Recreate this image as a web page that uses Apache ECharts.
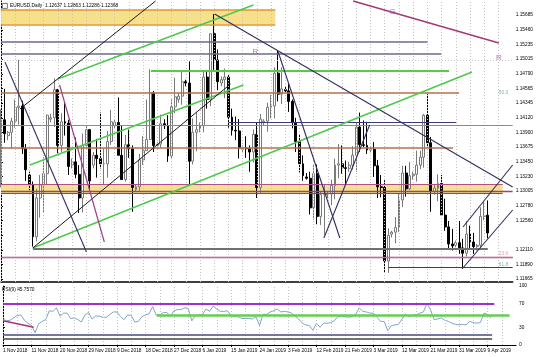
<!DOCTYPE html>
<html><head><meta charset="utf-8">
<script src="https://cdn.jsdelivr.net/npm/echarts@6/dist/echarts.min.js"></script>
<style>html,body{margin:0;padding:0;background:#fff}#c{width:536px;height:357px}</style>
</head><body><div id="c"></div>
<script>
// ---- data (bar index 0 = 1 Nov 2018, broker with Sunday bars) ----
const dateTicks = ['1 Nov 2018','11 Nov 2018','20 Nov 2018','29 Nov 2018','9 Dec 2018','18 Dec 2018','27 Dec 2018','6 Jan 2019','15 Jan 2019','24 Jan 2019','3 Feb 2019','12 Feb 2019','21 Feb 2019','3 Mar 2019','12 Mar 2019','21 Mar 2019','31 Mar 2019','9 Apr 2019'];
const priceTicks = [1.15685,1.15460,1.15235,1.15015,1.14790,1.14565,1.14345,1.14120,1.13900,1.13675,1.13450,1.13230,1.13005,1.12780,1.12560,1.12335,1.12110,1.11890,1.11665];
const rsiTicks = [0,30,70,100];
const lastPrice = 1.12368;

const open = [1.1313,1.1409,1.1385,1.1390,1.1407,1.1428,1.1430,1.1365,1.1325,1.1310,1.1231,1.1290,1.1310,1.1327,1.1410,1.1412,1.1455,1.1370,1.1406,1.1404,1.1340,1.1345,1.1326,1.1290,1.1370,1.1394,1.1340,1.1355,1.1350,1.1342,1.1342,1.1376,1.1400,1.1405,1.1355,1.1318,1.1371,1.1365,1.1303,1.1307,1.1348,1.1362,1.1379,1.1450,1.1370,1.1372,1.1403,1.1400,1.1354,1.1429,1.1440,1.1445,1.1467,1.1465,1.1346,1.1390,1.1395,1.1400,1.1474,1.1440,1.1540,1.1500,1.1465,1.1470,1.1474,1.1413,1.1393,1.1392,1.1364,1.1366,1.1365,1.1360,1.1387,1.1306,1.1405,1.1407,1.1428,1.1430,1.1480,1.1448,1.1455,1.1453,1.1437,1.1405,1.1376,1.1342,1.1322,1.1320,1.1275,1.1327,1.1262,1.1295,1.1295,1.1296,1.1309,1.1340,1.1342,1.1336,1.1335,1.1340,1.1355,1.1398,1.1371,1.1370,1.1363,1.1364,1.1339,1.1307,1.1306,1.1194,1.1235,1.1238,1.1245,1.1287,1.1328,1.1304,1.1324,1.1326,1.1340,1.1352,1.1416,1.1374,1.1300,1.1305,1.1312,1.1264,1.1246,1.1220,1.1218,1.1222,1.1214,1.1206,1.1235,1.1223,1.1216,1.1218,1.1262,1.12637];
const high = [1.1425,1.1456,1.1392,1.1412,1.1440,1.1500,1.1438,1.1372,1.1330,1.1315,1.1304,1.1325,1.1352,1.1417,1.1418,1.1472,1.1456,1.1419,1.1435,1.1409,1.1350,1.1382,1.1340,1.1388,1.1401,1.1395,1.1360,1.1380,1.1420,1.1365,1.1392,1.1424,1.1410,1.1443,1.1400,1.1386,1.1394,1.1370,1.1310,1.1357,1.1384,1.1440,1.1486,1.1453,1.1375,1.1417,1.1410,1.1416,1.1440,1.1473,1.1450,1.1484,1.1470,1.1498,1.1411,1.1420,1.1405,1.1484,1.1485,1.1540,1.1570,1.1516,1.1475,1.1487,1.1477,1.1426,1.1414,1.1410,1.1370,1.1384,1.1370,1.1394,1.1405,1.1418,1.1410,1.1435,1.1447,1.1489,1.1514,1.1489,1.1460,1.1464,1.1440,1.1412,1.1386,1.1355,1.1328,1.1330,1.1340,1.1341,1.1300,1.1310,1.1300,1.1318,1.1350,1.1372,1.1370,1.1347,1.1345,1.1369,1.1404,1.1420,1.1408,1.1406,1.1368,1.1375,1.1348,1.1325,1.1317,1.1244,1.1240,1.1261,1.1296,1.1339,1.1339,1.1345,1.1330,1.1362,1.1362,1.1418,1.1448,1.1383,1.1310,1.1326,1.1325,1.1289,1.1255,1.1243,1.1225,1.1255,1.1228,1.1255,1.1248,1.1237,1.1220,1.1276,1.1284,1.12863];
const low = [1.1306,1.1374,1.1378,1.1365,1.1397,1.1402,1.1357,1.1316,1.1302,1.1216,1.1224,1.1260,1.1268,1.1310,1.1405,1.1398,1.1358,1.1360,1.1385,1.1325,1.1335,1.1320,1.1267,1.1268,1.1365,1.1303,1.1335,1.1321,1.1335,1.1311,1.1321,1.1371,1.1395,1.1355,1.1318,1.1315,1.1351,1.1269,1.1300,1.1301,1.1340,1.1362,1.1380,1.1360,1.1365,1.1366,1.1395,1.1345,1.1349,1.1419,1.1435,1.1432,1.1460,1.1309,1.1341,1.1361,1.1390,1.1390,1.1426,1.1430,1.1485,1.1454,1.1460,1.1442,1.1397,1.1385,1.1378,1.1350,1.1360,1.1351,1.1330,1.1344,1.1290,1.1298,1.1400,1.1391,1.1411,1.1411,1.1437,1.1433,1.1450,1.1421,1.1396,1.1360,1.1329,1.1316,1.1318,1.1265,1.1257,1.1250,1.1249,1.1234,1.1290,1.1279,1.1288,1.1320,1.1327,1.1310,1.1330,1.1333,1.1330,1.1360,1.1367,1.1357,1.1358,1.1322,1.1290,1.1291,1.1176,1.1176,1.1230,1.1221,1.1238,1.1276,1.1292,1.1302,1.1318,1.1315,1.1334,1.1336,1.1367,1.1269,1.1295,1.1285,1.1264,1.1240,1.1213,1.1210,1.1215,1.1205,1.1183,1.1201,1.1212,1.1205,1.1210,1.1214,1.1256,1.12286];
const close = [1.1409,1.1388,1.1390,1.1407,1.1428,1.1430,1.1365,1.1333,1.1310,1.1231,1.1290,1.1310,1.1327,1.1416,1.1412,1.1455,1.1370,1.1406,1.1404,1.1338,1.1345,1.1326,1.1290,1.1370,1.1394,1.1316,1.1355,1.1350,1.1342,1.1342,1.1376,1.1406,1.1405,1.1355,1.1318,1.1371,1.1365,1.1306,1.1307,1.1348,1.1362,1.1379,1.1450,1.1370,1.1372,1.1403,1.1400,1.1354,1.1429,1.1444,1.1445,1.1467,1.1465,1.1346,1.1390,1.1394,1.1400,1.1474,1.1440,1.1540,1.1500,1.1467,1.1470,1.1474,1.1413,1.1393,1.1392,1.1366,1.1366,1.1365,1.1360,1.1387,1.1306,1.1410,1.1407,1.1428,1.1430,1.1480,1.1448,1.1456,1.1453,1.1437,1.1405,1.1376,1.1342,1.1324,1.1320,1.1275,1.1327,1.1262,1.1295,1.1295,1.1296,1.1309,1.1340,1.1342,1.1336,1.1335,1.1340,1.1355,1.1398,1.1371,1.1370,1.1363,1.1364,1.1339,1.1307,1.1306,1.1194,1.1233,1.1238,1.1245,1.1287,1.1328,1.1304,1.1324,1.1326,1.1340,1.1352,1.1416,1.1374,1.1300,1.1305,1.1312,1.1264,1.1246,1.1220,1.1217,1.1222,1.1214,1.1206,1.1235,1.1223,1.1216,1.1218,1.1262,1.1263,1.12368];
const rsi = [44,41,42,46,50,51,42,37,33,21,36,40,43,58,57,63,49,54,54,45,46,43,39,51,55,44,49,49,47,47,52,56,56,48,43,51,50,39,40,48,51,53,65,51,51,55,55,49,58,60,60,63,62,41,50,51,52,61,57,66,61,57,57,58,50,48,48,45,45,45,44,48,33,52,52,56,58,61,56,57,56,54,49,44,37,34,33,25,37,30,37,37,38,41,48,49,48,47,48,52,63,57,56,54,54,47,40,40,24,33,34,35,44,52,48,51,51,54,56,70,60,43,44,46,42,40,37,35,34,35,34,40,38,37,38,54,52,45.757];

// drawn objects: [barIndex1, price1, barIndex2, price2]
const yellowTrend = [-0.28,1.15183,75.2,1.12382];
const greenTrends = [[15.94,1.14711,71.03,1.15837],[8.11,1.13402,68.23,1.14620],[8.95,1.12139,132.55,1.14817]];
const blackTrends = [[5.31,1.14254,43.5,1.15898],[8.95,1.12139,64.6,1.14635]];
const navyTrends = [[60.12,1.15700,144,1.13067],[78.02,1.15122,95.36,1.12291],[90.88,1.12291,103.75,1.14011],[130.03,1.12458,144,1.13402],[129.75,1.11819,144,1.12717],[1.12,1.14970,24.05,1.12078]];
const purpleTrend = [16.5,1.14620,29.08,1.12230];
const magentaTrend = [99.1,1.15898,140.1,1.15259];
// horizontal levels: [fromBar, toBar, price]
const slateLevels = [[0,120,1.15285],[0,123.9,1.15102]];
const greenLevel = [42.2,126.1,1.14837];
const brownLevels = [[0,128.9,1.14502],[0,127.2,1.13671]];
const navyLevel = [64,128.1,1.14052];
const magentaLevels = [1.12600,1.12347];
const greyLevel = [9,137,1.12124];
const fibLevels = [['50.0',1.14472,'#5f9ea0'],['23.6',1.12017,'#c98aa2'],['61.8',1.11850,'#5f9ea0']];
const bands = [[0,77.2,1.15761,1.15540],[0,141.2,1.13113,1.12976]];
const textMarks = [['R',71.6,1.15122],['R',140.1,1.15031],['G',110.2,1.15731]];
// RSI levels
const rsiLevels = [[0,137.9,70,'#9933cc',2],[43.1,142.2,50,'#66cc55',2.5],[0,137.3,18,'#4a4a80',1.5],[0,137.3,11.3,'#444',1.5]];
const rsiTrend = [0,41,8.6,30];

// ---- chart ----
const FONT = 'Liberation Sans';
const FS = 4.8;
const chart = echarts.init(document.getElementById('c'));
const PMIN = 1.116213, PMAX = 1.158981;
const gridBars = []; for (let b = 0; b <= 140; b += 4) gridBars.push(b);

function seg(a, b, color, width, type) {
  return [{coord: a, lineStyle: {color: color, width: width, type: type || 'solid'}}, {coord: b}];
}
function tl(t, color, width) { return seg([t[0], t[1]], [t[2], t[3]], color, width); }
function hl(h, color, width) { return seg([h[0], h[2]], [h[1], h[2]], color, width); }

const gridLines = [];
priceTicks.forEach(v => gridLines.push({yAxis: v, lineStyle: {color: '#c4c4c4', type: [1, 2], width: 1}}));
gridBars.forEach(b => gridLines.push({xAxis: b, lineStyle: {color: '#c4c4c4', type: [1, 2], width: 1}}));

const objLines = [];
objLines.push(hl([bands[0][0], bands[0][1], bands[0][2]], '#e0962e', 1.5));
objLines.push(hl([bands[0][0], bands[0][1], bands[0][3]], '#e0962e', 1.5));
objLines.push(hl([bands[1][0], bands[1][1], bands[1][2]], '#b0508a', 1.2));
objLines.push(hl([bands[1][0], bands[1][1], bands[1][3]], '#606060', 1.2));
slateLevels.forEach(h => objLines.push(hl(h, '#6a6a8c', 1.5)));
objLines.push(hl(greenLevel, '#55cc44', 2));
brownLevels.forEach(h => objLines.push(hl(h, '#b3704c', 1.5)));
objLines.push(hl(navyLevel, '#3a3a78', 1.2));
magentaLevels.forEach(p => objLines.push({yAxis: p, lineStyle: {color: '#a0407a', width: 1.3, type: 'solid'}}));
objLines.push(hl(greyLevel, '#707070', 2));
fibLevels.forEach(f => objLines.push({yAxis: f[1], lineStyle: {color: f[2], width: 1, type: 'solid'}}));
objLines.push(seg([109, 1.11844], [144, 1.11844], '#3a3a78', 1));
objLines.push(tl(yellowTrend, '#f2d030', 3));
greenTrends.forEach(t => objLines.push(tl(t, '#4ec94e', 1.6)));
blackTrends.forEach(t => objLines.push(tl(t, '#1a1a1a', 1)));
navyTrends.forEach(t => objLines.push(tl(t, '#303060', 1.1)));
objLines.push(tl(purpleTrend, '#a0408a', 1.2));
objLines.push(tl(magentaTrend, '#a03a78', 1.5));

const option = {
  animation: false,
  backgroundColor: '#fff',
  textStyle: {fontFamily: FONT},
  title: [
    {text: 'EURUSD,Daily  1.12637 1.12863 1.12286 1.12368', left: 10, top: 3, padding: 0,
     textStyle: {fontSize: FS, fontWeight: 'normal', color: '#000', fontFamily: FONT}},
    {text: 'RSI(9) 45.7570', left: 2, top: 287, padding: 0,
     textStyle: {fontSize: FS, fontWeight: 'normal', color: '#000', fontFamily: FONT}}
  ],
  graphic: [
    {type: 'rect', left: 2, top: 3, shape: {width: 5, height: 5}, style: {fill: '#fff', stroke: '#555', lineWidth: 0.8}, z: 10}
  ],
  grid: [
    {left: 1, top: 1, width: 515, height: 281},
    {left: 1, top: 286, width: 515, height: 59}
  ],
  xAxis: [
    {gridIndex: 0, type: 'value', min: 0, max: 144, interval: 8,
     axisLine: {show: true, lineStyle: {color: '#000', width: 1.5}}, axisTick: {show: false},
     axisLabel: {show: false}, splitLine: {show: false}},
    {gridIndex: 1, type: 'value', min: 0, max: 144, interval: 8,
     axisLine: {show: true, lineStyle: {color: '#000', width: 1}},
     axisTick: {show: true, length: 2, lineStyle: {color: '#000'}},
     axisLabel: {show: true, showMinLabel: true, showMaxLabel: false, hideOverlap: false, align: 'left', margin: 3,
       fontSize: FS, color: '#000', fontFamily: FONT,
       formatter: v => (v % 8 === 0 && v / 8 < dateTicks.length) ? dateTicks[v / 8] : ''},
     splitLine: {show: false}}
  ],
  yAxis: [
    {gridIndex: 0, type: 'value', position: 'right', min: PMIN, max: PMAX, scale: true,
     axisLine: {show: true, lineStyle: {color: '#000', width: 1}},
     axisTick: {show: true, length: 2, customValues: priceTicks, lineStyle: {color: '#000'}},
     axisLabel: {show: true, margin: 3, fontSize: FS, color: '#000', fontFamily: FONT,
       customValues: priceTicks.filter(v => v !== 1.12335), formatter: v => v.toFixed(5)},
     splitLine: {show: false}},
    {gridIndex: 1, type: 'value', position: 'right', min: 0, max: 100,
     axisLine: {show: true, lineStyle: {color: '#000', width: 1}},
     axisTick: {show: true, length: 2, customValues: rsiTicks, lineStyle: {color: '#000'}},
     axisLabel: {show: true, margin: 3, fontSize: FS, color: '#000', fontFamily: FONT, customValues: rsiTicks},
     splitLine: {show: false}}
  ],
  series: [
    {name: 'bg', type: 'line', xAxisIndex: 0, yAxisIndex: 0, data: [], z: 1, silent: true,
     markArea: {silent: true, itemStyle: {color: '#f6e08c'},
       data: bands.map(b => [{coord: [b[0], b[2]]}, {coord: [b[1], b[3]]}])},
     markLine: {silent: true, symbol: ['none', 'none'], label: {show: false}, data: gridLines}},
    {name: 'EURUSD', type: 'candlestick', xAxisIndex: 0, yAxisIndex: 0, z: 3, barWidth: 2.4,
     encode: {x: 0, y: [1, 2, 3, 4]},
     data: close.map((c, i) => [i, open[i], c, low[i], high[i]]),
     itemStyle: {color: '#ffffff', borderColor: '#7a7a7a', color0: '#000000', borderColor0: '#000000', borderWidth: 1},
     markLine: {silent: true, symbol: ['none', 'none'],
       data: [{yAxis: lastPrice, lineStyle: {opacity: 0},
         label: {show: true, position: 'end', distance: 1, formatter: lastPrice.toFixed(5),
           backgroundColor: '#000', color: '#fff', fontSize: FS, padding: [1, 2], fontFamily: FONT}}]}},
    {name: 'objects', type: 'line', xAxisIndex: 0, yAxisIndex: 0, data: [], z: 4, silent: true,
     markLine: {silent: true, symbol: ['none', 'none'], label: {show: false}, data: objLines}},
    {name: 'texts', type: 'scatter', xAxisIndex: 0, yAxisIndex: 0, z: 6, symbolSize: 0, silent: true,
     data: textMarks.map(t => ({value: [t[1], t[2]], name: t[0]}))
       .concat(fibLevels.map(f => ({value: [141.4, f[1]], name: f[0],
         label: {fontSize: FS, color: f[2], position: 'top', distance: 0}}))),
     label: {show: true, position: 'inside', formatter: p => p.name, color: '#b040c0', fontSize: 8, fontFamily: FONT}},
    {name: 'rsiGrid', type: 'line', xAxisIndex: 1, yAxisIndex: 1, data: [], z: 1, silent: true,
     markLine: {silent: true, symbol: ['none', 'none'], label: {show: false},
       data: gridBars.map(b => ({xAxis: b, lineStyle: {color: '#c4c4c4', type: [1, 2], width: 1}}))}},
    {name: 'RSI', type: 'line', xAxisIndex: 1, yAxisIndex: 1, z: 3, symbol: 'none',
     data: rsi.map((v, i) => [i, v]), lineStyle: {color: '#7fa6c9', width: 1},
     markLine: {silent: true, symbol: ['none', 'none'], label: {show: false},
       data: rsiLevels.map(l => seg([l[0], l[2]], [l[1], l[2]], l[3], l[4]))
         .concat([seg([rsiTrend[0], rsiTrend[1]], [rsiTrend[2], rsiTrend[3]], '#b0306a', 1.5)])}}
  ]
};
chart.setOption(option);
</script>
</body></html>
